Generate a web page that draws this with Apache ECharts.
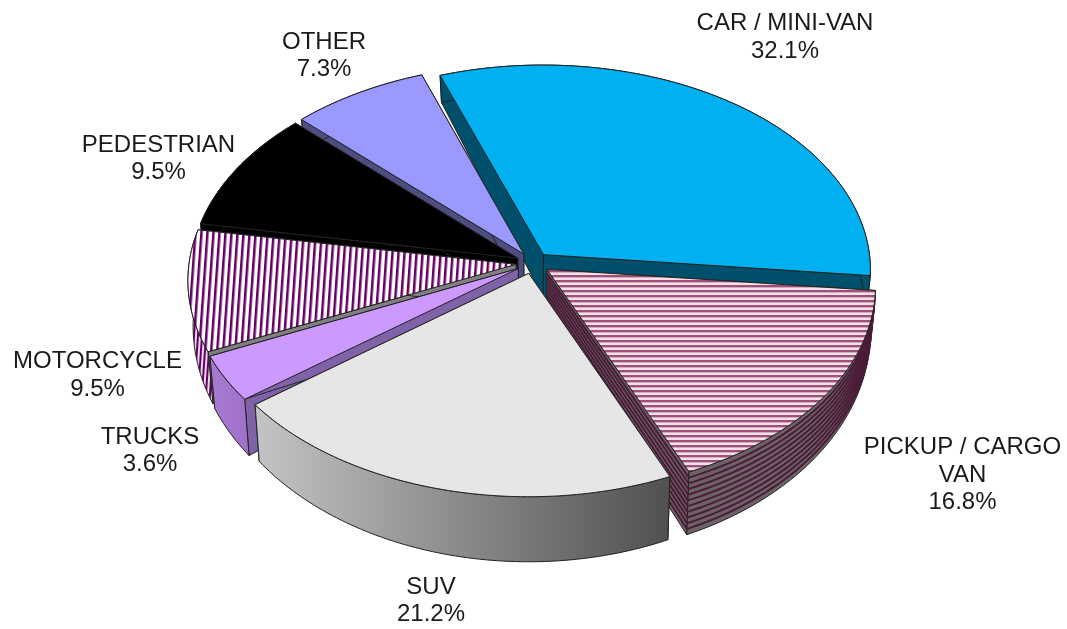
<!DOCTYPE html>
<html>
<head>
<meta charset="utf-8">
<style>html,body{margin:0;padding:0;background:#fff}#c{width:1067px;height:629px}</style>
<script src="https://cdn.jsdelivr.net/npm/echarts@6/dist/echarts.min.js"></script>
</head>
<body>
<div id="c"></div>
<script>
var categories = ['CAR / MINI-VAN', 'PICKUP / CARGO\nVAN', 'SUV', 'TRUCKS', 'MOTORCYCLE', 'PEDESTRIAN', 'OTHER'];
var shares = [32.1, 16.8, 21.2, 3.6, 9.5, 9.5, 7.3];

// Layout of the projected disc
var CX = 533, CY = 263, RX = 327, RY = 205, START = 340.3, EXPLODE = 0.052, PERSPECTIVE = 0.075;
var DEPTH = 44, BOTTOM_SX = 0.985, BOTTOM_SY = 1.09;
var labelAnchors = [[785, 37.5], [962.5, 475], [431, 601], [150, 451], [97.5, 375.5], [158.5, 159], [324, 56]];
var paintOrder = [0, 6, 5, 4, 3, 1, 2];

function stripes(w, h, paint) {
  var c = document.createElement('canvas');
  c.width = w; c.height = h;
  paint(c.getContext('2d'));
  return c;
}
var hTile = stripes(4, 5, function (g) {
  g.fillStyle = '#EFE2E8'; g.fillRect(0, 0, 4, 5);
  g.fillStyle = '#A04E7A'; g.fillRect(0, 0, 4, 2);
  g.fillStyle = '#D4AABE'; g.fillRect(0, 2, 4, 1);
});
var vTile = stripes(6, 4, function (g) {
  g.fillStyle = '#FFFFFF'; g.fillRect(0, 0, 6, 4);
  g.fillStyle = '#660066'; g.fillRect(0, 0, 2, 4);
  g.fillStyle = '#A878A8'; g.fillRect(2, 0, 1, 4);
});
var vWallTile = stripes(4, 4, function (g) {
  g.fillStyle = '#E8D8E8'; g.fillRect(0, 0, 4, 4);
  g.fillStyle = '#660066'; g.fillRect(0, 0, 2, 4);
});
var hFill = { image: hTile, repeat: 'repeat' };
var vFill = { image: vTile, repeat: 'repeat', rotation: 0.07 };
var vWallFill = { image: vWallTile, repeat: 'repeat', rotation: 0.07 };

var sliceStyles = [
  { top: '#00B0F0', wall: '#004F6B', side: '#004F6B' },
  { top: hFill, wall: '#6C6268', side: '#6C6268', lined: true },
  { top: '#E6E6E6', side: '#8A8A8A',
    wall: { type: 'linear', x: 0, y: 0, x2: 1, y2: 0, colorStops: [
      { offset: 0, color: '#C4C4C4' }, { offset: 1, color: '#505050' }] } },
  { top: '#CC99FF', side: '#8062A8',
    wall: { type: 'linear', x: 0, y: 0, x2: 1, y2: 0, colorStops: [
      { offset: 0, color: '#A87AD0' }, { offset: 1, color: '#A070C8' }] } },
  { top: vFill, wall: vWallFill, side: '#808080' },
  { top: '#000000', wall: '#000000', side: '#000000' },
  { top: '#9999FF', wall: '#4D4D80', side: '#4D4D80' }
];

var total = shares.reduce(function (a, b) { return a + b; }, 0);
var spans = [], acc = START;
shares.forEach(function (s) {
  var sweep = s / total * 360;
  spans.push([acc, acc + sweep]);
  acc += sweep;
});

function project(deg, r, i, t) {
  // t: 0 = top face, 1 = bottom face
  var th = deg * Math.PI / 180;
  var m = (spans[i][0] + spans[i][1]) / 2 * Math.PI / 180;
  var u = r * Math.sin(th) + EXPLODE * Math.sin(m);
  var v = r * Math.cos(th) + EXPLODE * Math.cos(m);
  var w = 1 + PERSPECTIVE * v;
  var x = RX * u / w, y = -RY * v / w;
  var sx = 1 + (BOTTOM_SX - 1) * t, sy = 1 + (BOTTOM_SY - 1) * t;
  return [CX + x * sx, CY + y * sy + DEPTH * t];
}
function arc(i, t, reverse) {
  var a = spans[i][0], b = spans[i][1], pts = [];
  var n = Math.ceil(b - a);
  for (var k = 0; k <= n; k++) pts.push(project(a + (b - a) * k / n, 1, i, t));
  return reverse ? pts.reverse() : pts;
}
function poly(points, fill, stroke, lw) {
  return { type: 'polygon', silent: true, shape: { points: points },
    style: { fill: fill, stroke: stroke || '#222', lineWidth: lw === undefined ? 1 : lw } };
}
function line(points, color) {
  return { type: 'polyline', silent: true, shape: { points: points },
    style: { fill: null, stroke: color, lineWidth: 2 } };
}
function sideQuad(deg, i) {
  return [project(deg, 0, i, 0), project(deg, 1, i, 0), project(deg, 1, i, 1), project(deg, 0, i, 1)];
}

function renderItem(params, api) {
  var i = api.value(0), st = sliceStyles[i], ch = [];
  var a = spans[i][0], b = spans[i][1];
  var sideA = sideQuad(a, i), sideB = sideQuad(b, i);
  ch.push(poly(sideA, st.side));
  ch.push(poly(sideB, st.side));
  ch.push(poly(arc(i, 0).concat(arc(i, 1, true)), st.wall));
  if (st.lined) {
    for (var k = 1; k < 11; k++) {
      var f = k / 11, pts = [], j, p0, p1;
      var top = arc(i, 0), bot = arc(i, 1);
      for (j = 0; j < top.length; j++) {
        pts.push([top[j][0] + (bot[j][0] - top[j][0]) * f, top[j][1] + (bot[j][1] - top[j][1]) * f]);
      }
      ch.push(line(pts, '#4A1C38'));
      p0 = project(b, 1, i, f); p1 = project(b, 0, i, f);
      ch.push(line([p0, p1], '#4A1C38'));
    }
  }
  var face = [project(a, 0, i, 0)].concat(arc(i, 0));
  ch.push(poly(face, st.top));
  return { type: 'group', children: ch };
}

var labelGraphics = categories.map(function (name, i) {
  return {
    type: 'text', silent: true, x: labelAnchors[i][0], y: labelAnchors[i][1],
    style: {
      text: name + '\n' + shares[i].toFixed(1) + '%',
      font: '24px "Liberation Sans", Arial, sans-serif',
      lineHeight: 27.5, fill: '#1a1a1a', align: 'center', verticalAlign: 'middle'
    }
  };
});

var chart = echarts.init(document.getElementById('c'), null, { renderer: 'canvas' });
chart.setOption({
  animation: false,
  backgroundColor: '#fff',
  graphic: labelGraphics,
  series: [{
    type: 'custom',
    coordinateSystem: 'none',
    silent: true,
    renderItem: renderItem,
    data: paintOrder.map(function (i) { return [i, shares[i]]; })
  }]
});
</script>
</body>
</html>
